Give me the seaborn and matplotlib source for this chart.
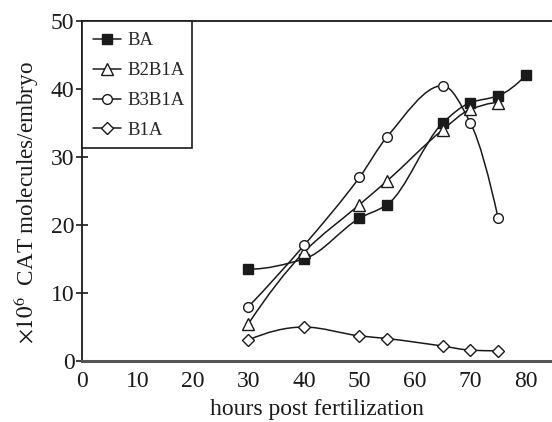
import numpy as np
import pandas as pd
import matplotlib
matplotlib.use("Agg")
import matplotlib.pyplot as plt
import seaborn as sns
from matplotlib.path import Path
from matplotlib.patches import PathPatch, Rectangle
from matplotlib.lines import Line2D

# ---- data ----
hours_BA = [30, 40, 50, 55, 65, 70, 75, 80]
BA = [13.5, 15.0, 21.0, 23.0, 35.0, 38.0, 39.0, 42.0]
hours_B2 = [30, 40, 50, 55, 65, 70, 75]
B2B1A = [5.5, 16.0, 23.0, 26.5, 34.0, 37.0, 38.0]
hours_B3 = [30, 40, 50, 55, 65, 70, 75]
B3B1A = [8.0, 17.0, 27.0, 33.0, 40.5, 35.0, 21.0]
hours_B1 = [30, 40, 50, 55, 65, 70, 75]
B1A = [3.1, 5.0, 3.7, 3.3, 2.2, 1.6, 1.5]
series_names = ["BA", "B2B1A", "B3B1A", "B1A"]
x_ticks = [0, 10, 20, 30, 40, 50, 60, 70, 80]
y_ticks = [0, 10, 20, 30, 40, 50]

sns.set_theme(style="white")
plt.rcParams["font.family"] = ["Liberation Serif", "DejaVu Serif"]
plt.rcParams["mathtext.fontset"] = "stix"

frames = []
for name, xs, ys in [("BA", hours_BA, BA), ("B2B1A", hours_B2, B2B1A),
                     ("B3B1A", hours_B3, B3B1A), ("B1A", hours_B1, B1A)]:
    frames.append(pd.DataFrame({"hours": xs, "value": ys, "construct": name}))
df = pd.concat(frames, ignore_index=True)

ink = "#1a1a1a"
markers = {"BA": "s", "B2B1A": "^", "B3B1A": "o", "B1A": "D"}
msizes = {"BA": 7.5, "B2B1A": 8.0, "B3B1A": 7.0, "B1A": 6.0}
faces = {"BA": ink, "B2B1A": "white", "B3B1A": "white", "B1A": "white"}

fig = plt.figure(figsize=(5.52, 4.22), dpi=100)
ax = fig.add_axes([0.1486, 0.1445, 0.8514, 0.8057])


def pchip_slopes(x, y):
    h = np.diff(x)
    d = np.diff(y) / h
    n = len(x)
    m = np.zeros(n)
    for k in range(1, n - 1):
        if d[k - 1] * d[k] <= 0:
            m[k] = 0.0
        else:
            w1 = 2 * h[k] + h[k - 1]
            w2 = h[k] + 2 * h[k - 1]
            m[k] = (w1 + w2) / (w1 / d[k - 1] + w2 / d[k])

    def edge(h0, h1, d0, d1):
        s = ((2 * h0 + h1) * d0 - h0 * d1) / (h0 + h1)
        if np.sign(s) != np.sign(d0):
            s = 0.0
        elif np.sign(d0) != np.sign(d1) and abs(s) > 3 * abs(d0):
            s = 3 * d0
        return s

    m[0] = edge(h[0], h[1], d[0], d[1])
    m[-1] = edge(h[-1], h[-2], d[-1], d[-2])
    return m


def curve_path(xs, ys):
    """Monotone cubic (PCHIP) curve through the points, drawn as Bezier segments."""
    x = np.asarray(xs, float)
    y = np.asarray(ys, float)
    m = pchip_slopes(x, y)
    verts = [(x[0], y[0])]
    codes = [Path.MOVETO]
    for i in range(len(x) - 1):
        h = x[i + 1] - x[i]
        verts += [(x[i] + h / 3, y[i] + m[i] * h / 3),
                  (x[i + 1] - h / 3, y[i + 1] - m[i + 1] * h / 3),
                  (x[i + 1], y[i + 1])]
        codes += [Path.CURVE4] * 3
    return Path(verts, codes)


for name in series_names:
    sub = df[df.construct == name]
    ax.add_patch(PathPatch(curve_path(sub.hours.values, sub.value.values),
                           facecolor="none", edgecolor=ink, lw=1.1, zorder=2))

for name in series_names:
    sub = df[df.construct == name]
    sns.lineplot(data=sub, x="hours", y="value", ax=ax, linestyle="",
                 marker=markers[name], markersize=msizes[name],
                 markerfacecolor=faces[name], markeredgecolor=ink,
                 markeredgewidth=1.0, color=ink, zorder=3, legend=False)

ax.set_xlim(0, 84.7)
ax.set_ylim(0, 50)
ax.set_xticks(x_ticks)
ax.set_yticks(y_ticks)
ax.tick_params(axis="x", length=0, pad=7, labelsize=17, labelcolor=ink)
ax.tick_params(axis="y", direction="inout", length=9, width=1.2, color=ink,
               pad=1, labelsize=17, labelcolor=ink, left=True)

for s in ["left", "top"]:
    ax.spines[s].set_color(ink)
    ax.spines[s].set_linewidth(1.3)
ax.spines["bottom"].set_color("#555555")
ax.spines["bottom"].set_linewidth(2.2)
ax.spines["right"].set_visible(False)

ax.set_xlabel("hours post fertilization", fontsize=17, color=ink, labelpad=5)
ax.set_ylabel(r"$\times10^{6}$  CAT molecules/embryo", fontsize=16.7, color=ink)
ax.yaxis.set_label_coords(-0.088, 0.465)

# legend box (frame drawn as a rectangle in axes coordinates)
ax.add_patch(Rectangle((0, 0.6265), 0.234, 0.3735, transform=ax.transAxes,
                       facecolor="white", edgecolor=ink, lw=1.2, zorder=4,
                       clip_on=False))
handles = [Line2D([], [], color=ink, lw=1.1, marker=markers[n],
                  markersize=msizes[n], markerfacecolor=faces[n],
                  markeredgecolor=ink) for n in series_names]
leg = ax.legend(handles, series_names, loc="upper left", bbox_to_anchor=(0, 1),
                borderaxespad=0, frameon=False, fontsize=13.5,
                handlelength=1.5, handletextpad=0.3, labelspacing=0.68,
                borderpad=0.6)
leg.set_zorder(5)

fig.savefig("out.png", dpi=100)
